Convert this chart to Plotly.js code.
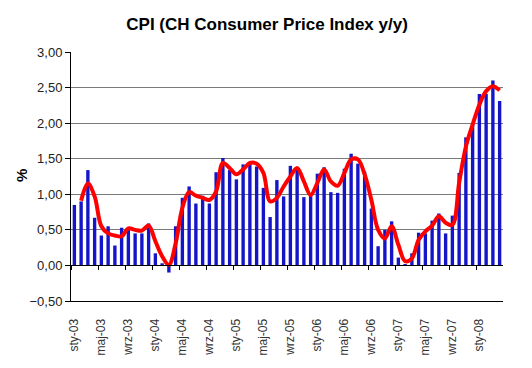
<!DOCTYPE html>
<html><head><meta charset="utf-8">
<script src="https://cdn.plot.ly/plotly-3.0.1.min.js"></script>
<style>html,body{margin:0;padding:0;background:#fff}#chart{width:532px;height:368px}</style>
</head><body><div id="chart"></div>
<script>
// monthly index 0 = sty-03 (Jan 2003) ... 63 = Apr 2008
const cpiValues = [
  0.85, 0.90, 1.34, 0.67, 0.42, 0.55, 0.28, 0.53, 0.50, 0.45, 0.45, 0.59,
  0.17, 0.03, -0.10, 0.55, 0.95, 1.11, 0.87, 0.98, 0.87, 1.31, 1.51, 1.34,
  1.21, 1.42, 1.45, 1.39, 1.09, 0.68, 1.20, 0.97, 1.40, 1.37, 0.96, 1.00,
  1.29, 1.38, 1.03, 1.02, 1.36, 1.57, 1.43, 1.32, 0.80, 0.27, 0.50, 0.62,
  0.11, 0.02, 0.17, 0.46, 0.45, 0.63, 0.73, 0.45, 0.70, 1.30, 1.80, 2.00,
  2.41, 2.41, 2.60, 2.31
];
const trendValues = [
  null, 0.91, 1.15, 0.97, 0.55, 0.45, 0.42, 0.41, 0.52, 0.50, 0.49, 0.56,
  0.34, 0.13, 0.01, 0.31, 0.81, 1.03, 0.98, 0.95, 0.92, 1.04, 1.44, 1.37,
  1.28, 1.35, 1.44, 1.43, 1.30, 0.90, 0.95, 1.11, 1.25, 1.37, 1.18, 0.99,
  1.16, 1.35, 1.18, 1.12, 1.30, 1.49, 1.49, 1.28, 0.92, 0.50, 0.38, 0.55,
  0.29, 0.06, 0.10, 0.36, 0.48, 0.56, 0.69, 0.60, 0.57, 1.16, 1.67, 1.98,
  2.26, 2.45, 2.52, 2.46
];
const tickPositions = [0, 4, 8, 12, 16, 20, 24, 28, 32, 36, 40, 44, 48, 52, 56, 60];
const tickLabels = ['sty-03','maj-03','wrz-03','sty-04','maj-04','wrz-04','sty-05','maj-05',
  'wrz-05','sty-06','maj-06','wrz-06','sty-07','maj-07','wrz-07','sty-08'];

const months = cpiValues.map((_, i) => i);
const boundaryTicks = tickPositions.map(v => v - 0.5);

const traces = [
  {type: 'bar', x: months, y: cpiValues, marker: {color: '#1414C8'}, hoverinfo: 'skip'},
  {type: 'scatter', mode: 'lines', x: months, y: trendValues,
   line: {color: '#FF0000', width: 4, shape: 'spline', smoothing: 1}, hoverinfo: 'skip'},
  {type: 'scatter', mode: 'lines', x: [null], y: [null], xaxis: 'x2', showlegend: false, hoverinfo: 'skip'}
];

const font = {family: 'Liberation Sans, Arial, sans-serif', color: '#000'};
const layout = {
  width: 532, height: 368,
  margin: {l: 71, r: 29, t: 52, b: 67},
  paper_bgcolor: '#fff', plot_bgcolor: '#fff',
  showlegend: false, bargap: 0.5,
  separators: ', ',
  font: Object.assign({size: 11}, font),
  title: {text: '<b>CPI (CH Consumer Price Index y/y)</b>', x: 0.502, xanchor: 'center', y: 0.935, yanchor: 'middle',
          font: Object.assign({size: 17}, font)},
  xaxis: {range: [-0.5, 63.5], tickvals: tickPositions, ticktext: tickLabels, tickangle: -90,
          ticks: 'outside', ticklen: 12, tickcolor: 'rgba(0,0,0,0)',
          showgrid: false, zeroline: false, showline: true, linecolor: '#000', linewidth: 1,
          tickfont: Object.assign({size: 12}, font, {color: '#333'}), fixedrange: true},
  xaxis2: {overlaying: 'x', anchor: 'free', position: 0.5 / 3.5, range: [-0.5, 63.5],
           tickvals: boundaryTicks, ticks: 'outside', ticklen: 4, tickcolor: '#000',
           showticklabels: false, showline: true, linecolor: '#000', linewidth: 1,
           showgrid: false, zeroline: false, side: 'bottom'},
  yaxis: {range: [-0.5, 3.0], dtick: 0.5, tick0: 0, tickformat: '.2f',
          ticks: 'outside', ticklen: 5, tickcolor: '#000',
          showline: true, linecolor: '#000', linewidth: 1,
          showgrid: true, gridcolor: '#7a7a7a', gridwidth: 1, zeroline: false,
          tickfont: Object.assign({size: 13}, font, {color: '#222'})},
  annotations: [{text: '<b>%</b>', xref: 'paper', yref: 'paper', x: -0.116, y: 0.506,
                 xanchor: 'center', yanchor: 'middle', textangle: -90, showarrow: false,
                 font: Object.assign({size: 15}, font)}]
};

Plotly.newPlot('chart', traces, layout, {staticPlot: true, displayModeBar: false});
</script></body></html>
